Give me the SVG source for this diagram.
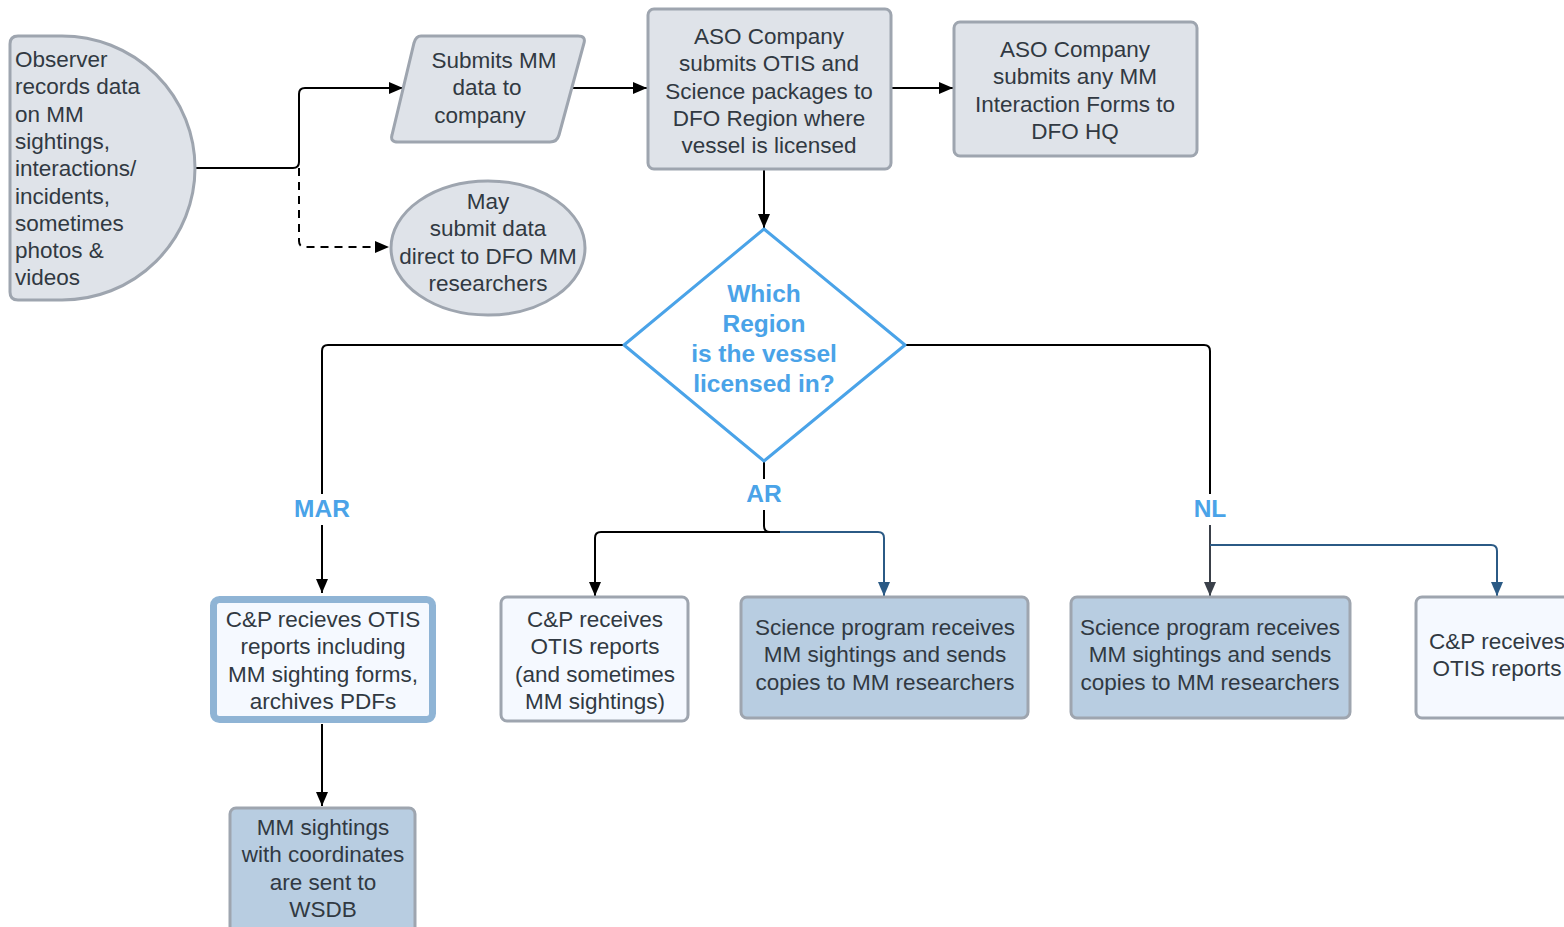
<svg xmlns="http://www.w3.org/2000/svg" width="1564" height="927" viewBox="0 0 1564 927">
<defs>
<marker id="ah" markerUnits="userSpaceOnUse" markerWidth="14" markerHeight="12" refX="14" refY="6" orient="auto"><path d="M0,0 L14,6 L0,12 Z" fill="#000"/></marker>
<marker id="ahb" markerUnits="userSpaceOnUse" markerWidth="14" markerHeight="12" refX="14" refY="6" orient="auto"><path d="M0,0 L14,6 L0,12 Z" fill="#2b5a85"/></marker>
<marker id="ahg" markerUnits="userSpaceOnUse" markerWidth="14" markerHeight="12" refX="14" refY="6" orient="auto"><path d="M0,0 L14,6 L0,12 Z" fill="#3a4049"/></marker>
<style>
.g{fill:#dfe3e9;stroke:#9ea5af;stroke-width:3}
.lb{fill:#f5f9ff;stroke:#9ea5af;stroke-width:3}
.bb{fill:#b8cde1;stroke:#9ea5af;stroke-width:3}
.t{font-family:"Liberation Sans",Arial,sans-serif;font-size:22.5px;fill:#313942;text-anchor:middle}
.tl{text-anchor:start}
.q{font-family:"Liberation Sans",Arial,sans-serif;font-size:24.5px;font-weight:bold;fill:#4aa3e8;text-anchor:middle}
.c{fill:none;stroke:#000;stroke-width:2}
.cb{fill:none;stroke:#2b5a85;stroke-width:2}
.cg{fill:none;stroke:#3a4049;stroke-width:2}
</style>
</defs>
<g id="connectors">
<path class="c" d="M195,168 H293 Q299,168 299,162 V94 Q299,88 305,88 H403" marker-end="url(#ah)"/>
<path class="c" d="M299,168 V241 Q299,247 305,247 H389" stroke-dasharray="8,6" marker-end="url(#ah)"/>
<path class="c" d="M571,88 H647" marker-end="url(#ah)"/>
<path class="c" d="M891,88 H953" marker-end="url(#ah)"/>
<path class="c" d="M764,169 V228" marker-end="url(#ah)"/>
<path class="c" d="M624,345 H328 Q322,345 322,351 V494"/>
<path class="c" d="M322,525 V593" marker-end="url(#ah)"/>
<path class="c" d="M764,461 V479"/>
<path class="c" d="M764,510 V526 Q764,532 770,532"/>
<path class="c" d="M780,532 H601 Q595,532 595,538 V596" marker-end="url(#ah)"/>
<path class="cb" d="M780,532 H878 Q884,532 884,538 V596" marker-end="url(#ahb)"/>
<path class="c" d="M905,345 H1204 Q1210,345 1210,351 V494"/>
<path class="cg" d="M1210,525 V596" marker-end="url(#ahg)"/>
<path class="cb" d="M1210,545 H1491 Q1497,545 1497,551 V596" marker-end="url(#ahb)"/>
<path class="c" d="M322,724 V806" marker-end="url(#ah)"/>
<text class="q" x="322" y="517">MAR</text>
<text class="q" x="764" y="502">AR</text>
<text class="q" x="1210" y="517">NL</text>
</g>
<g id="observer">
<path class="g" d="M18,36 H62 A133,132 0 0 1 62,300 H18 Q10,300 10,292 V44 Q10,36 18,36 Z"/>
<text class="t tl" x="15" y="67"><tspan x="15">Observer</tspan><tspan x="15" dy="27.3">records data</tspan><tspan x="15" dy="27.3">on MM</tspan><tspan x="15" dy="27.3">sightings,</tspan><tspan x="15" dy="27.3">interactions/</tspan><tspan x="15" dy="27.3">incidents,</tspan><tspan x="15" dy="27.3">sometimes</tspan><tspan x="15" dy="27.3">photos &amp;</tspan><tspan x="15" dy="27.3">videos</tspan></text>
</g>
<g id="submits">
<path class="g" d="M421,36 H578 Q586,36 584,43 L559,135 Q557,142 550,142 H398 Q390,142 392,135 L414,43 Q416,36 421,36 Z"/>
<text class="t" x="489" y="68"><tspan x="494">Submits MM</tspan><tspan x="487" dy="27.3">data to</tspan><tspan x="480" dy="27.3">company</tspan></text>
</g>
<g id="aso-otis">
<rect class="g" x="648" y="9" width="243" height="160" rx="6"/>
<text class="t" x="769" y="44"><tspan x="769">ASO Company</tspan><tspan x="769" dy="27.3">submits OTIS and</tspan><tspan x="769" dy="27.3">Science packages to</tspan><tspan x="769" dy="27.3">DFO Region where</tspan><tspan x="769" dy="27.3">vessel is licensed</tspan></text>
</g>
<g id="aso-hq">
<rect class="g" x="954" y="22" width="243" height="134" rx="6"/>
<text class="t" x="1075" y="57"><tspan x="1075">ASO Company</tspan><tspan x="1075" dy="27.3">submits any MM</tspan><tspan x="1075" dy="27.3">Interaction Forms to</tspan><tspan x="1075" dy="27.3">DFO HQ</tspan></text>
</g>
<g id="may-submit">
<ellipse class="g" cx="488" cy="248" rx="97" ry="67"/>
<text class="t" x="488" y="209"><tspan x="488">May</tspan><tspan x="488" dy="27.3">submit data</tspan><tspan x="488" dy="27.3">direct to DFO MM</tspan><tspan x="488" dy="27.3">researchers</tspan></text>
</g>
<g id="decision">
<path d="M764,229 L905,345 L764,461 L624,345 Z" fill="#fff" stroke="#4aa3e8" stroke-width="3" stroke-linejoin="round"/>
<text class="q" x="764" y="302"><tspan x="764">Which</tspan><tspan x="764" dy="30">Region</tspan><tspan x="764" dy="30">is the vessel</tspan><tspan x="764" dy="30">licensed in?</tspan></text>
</g>
<g id="mar-cp">
<rect x="213.5" y="599.5" width="219" height="120" rx="6" fill="#f5f9ff" stroke="#8fb4d5" stroke-width="7"/>
<text class="t" x="323" y="627"><tspan x="323">C&amp;P recieves OTIS</tspan><tspan x="323" dy="27.3">reports including</tspan><tspan x="323" dy="27.3">MM sighting forms,</tspan><tspan x="323" dy="27.3">archives PDFs</tspan></text>
</g>
<g id="ar-cp">
<rect class="lb" x="501" y="597" width="187" height="124" rx="6"/>
<text class="t" x="595" y="627"><tspan x="595">C&amp;P receives</tspan><tspan x="595" dy="27.3">OTIS reports</tspan><tspan x="595" dy="27.3">(and sometimes</tspan><tspan x="595" dy="27.3">MM sightings)</tspan></text>
</g>
<g id="ar-science">
<rect class="bb" x="741" y="597" width="287" height="121" rx="6"/>
<text class="t" x="885" y="635"><tspan x="885">Science program receives</tspan><tspan x="885" dy="27.3">MM sightings and sends</tspan><tspan x="885" dy="27.3">copies to MM researchers</tspan></text>
</g>
<g id="nl-science">
<rect class="bb" x="1071" y="597" width="279" height="121" rx="6"/>
<text class="t" x="1210" y="635"><tspan x="1210">Science program receives</tspan><tspan x="1210" dy="27.3">MM sightings and sends</tspan><tspan x="1210" dy="27.3">copies to MM researchers</tspan></text>
</g>
<g id="nl-cp">
<rect class="lb" x="1416" y="597" width="170" height="121" rx="6"/>
<text class="t" x="1497" y="649"><tspan x="1497">C&amp;P receives</tspan><tspan x="1497" dy="27.3">OTIS reports</tspan></text>
</g>
<g id="wsdb">
<rect class="bb" x="230" y="808" width="185" height="140" rx="6"/>
<text class="t" x="323" y="835"><tspan x="323">MM sightings</tspan><tspan x="323" dy="27.3">with coordinates</tspan><tspan x="323" dy="27.3">are sent to</tspan><tspan x="323" dy="27.3">WSDB</tspan></text>
</g>
</svg>
